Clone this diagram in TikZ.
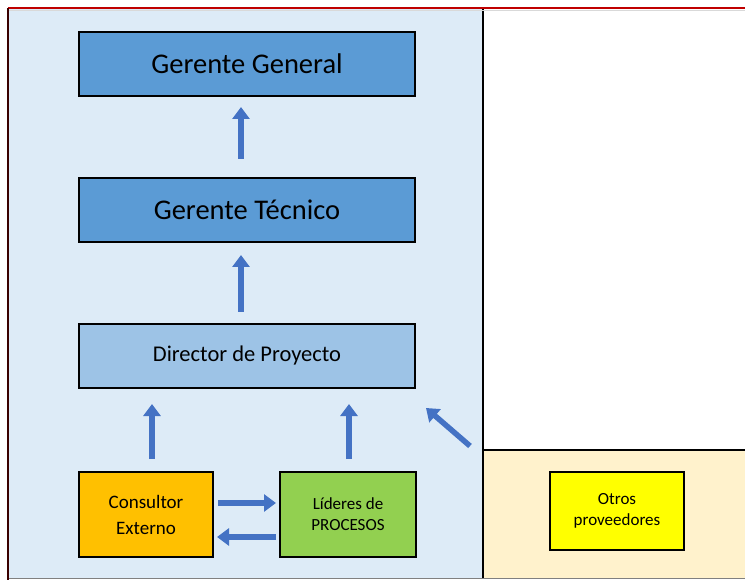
\documentclass[tikz,border=0pt]{standalone}
\usepackage{fontspec}
\setmainfont{Carlito}
\usetikzlibrary{arrows.meta}
\definecolor{panelblue}{HTML}{DDEBF7}
\definecolor{panelbeige}{HTML}{FFF2CC}
\definecolor{boxdark}{HTML}{5B9BD5}
\definecolor{boxlight}{HTML}{9DC3E6}
\definecolor{boxorange}{HTML}{FFC000}
\definecolor{boxgreen}{HTML}{92D050}
\definecolor{boxyellow}{HTML}{FFFF00}
\definecolor{arrowblue}{HTML}{4472C4}
\definecolor{frame}{HTML}{C00000}
\tikzset{
  orgbox/.style={draw=black, line width=2pt, inner sep=0pt, align=center},
  blockarrow/.style={draw=arrowblue, line width=5.5pt,
    -{Triangle[width=17pt,length=12pt]}, shorten >=0pt},
}
\begin{document}
\begin{tikzpicture}[x=1pt,y=-1pt]
\useasboundingbox (0,0) rectangle (745,580);
% background areas
\fill[white] (0,0) rectangle (745,580);
\fill[panelblue] (9,9) rectangle (483,578);
\fill[panelbeige] (483,450) rectangle (745,578);
\draw[black, line width=1.3pt] (483,9) -- (483,578);
\draw[black, line width=1.3pt] (483,450) -- (745,450);
\draw[gray, line width=1pt] (9,578) -- (745,578);
\draw[frame, line width=1.2pt] (8,8) -- (745,8);
\draw[black!70!frame, line width=1.6pt] (8,8) -- (8,580);
\draw[black!15, line width=0.8pt] (9,10.5) -- (745,10.5);

% boxes
\node[orgbox, fill=boxdark, minimum width=336pt, minimum height=64pt,
  font=\fontsize{28.5}{32}\selectfont] (gg) at (247,64) {Gerente General};
\node[orgbox, fill=boxdark, minimum width=336pt, minimum height=64pt,
  font=\fontsize{28.5}{32}\selectfont] (gt) at (247,210) {Gerente Técnico};
\node[orgbox, fill=boxlight, minimum width=336pt, minimum height=64pt,
  font=\fontsize{22.5}{26}\selectfont] (dp) at (247,356) {Director de Proyecto};
\node[orgbox, fill=boxorange, minimum width=134pt, minimum height=85pt,
  font=\fontsize{19}{26}\selectfont] (ce) at (146,514.5) {Consultor\\Externo};
\node[orgbox, fill=boxgreen, minimum width=136pt, minimum height=85pt,
  font=\fontsize{17}{21}\selectfont] (lp) at (348,514.5) {Líderes de\\PROCESOS};
\node[orgbox, fill=boxyellow, minimum width=134pt, minimum height=78pt,
  font=\fontsize{17}{21}\selectfont] (op) at (617,511) {Otros\\proveedores};

% arrows
\coordinate (a1s) at (241,159);
\coordinate (a1e) at (241,107);
\draw[blockarrow] (a1s) -- (a1e);
\coordinate (a2s) at (241,312);
\coordinate (a2e) at (241,255);
\draw[blockarrow] (a2s) -- (a2e);
\coordinate (a3s) at (152,459);
\coordinate (a3e) at (152,404);
\draw[blockarrow] (a3s) -- (a3e);
\coordinate (a4s) at (349,459);
\coordinate (a4e) at (349,404);
\draw[blockarrow] (a4s) -- (a4e);
\coordinate (a5s) at (470,446);
\coordinate (a5e) at (426,408);
\draw[blockarrow] (a5s) -- (a5e);
\coordinate (a6s) at (218,503);
\coordinate (a6e) at (276,503);
\draw[blockarrow] (a6s) -- (a6e);
\coordinate (a7s) at (276,537);
\coordinate (a7e) at (217,537);
\draw[blockarrow] (a7s) -- (a7e);
\end{tikzpicture}
\end{document}
